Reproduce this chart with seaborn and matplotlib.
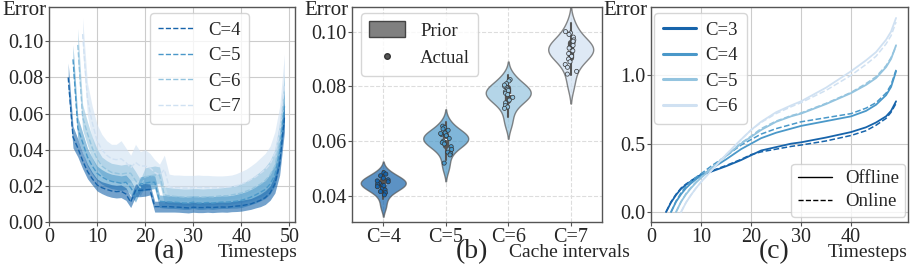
import numpy as np
import pandas as pd
import matplotlib
matplotlib.use("Agg")
import matplotlib.pyplot as plt
import seaborn as sns
from matplotlib.patches import Patch
from matplotlib.lines import Line2D

# ---------------- (a) error over timesteps, mean +- sd ----------------
a_labels = ["C=4", "C=5", "C=6", "C=7"]
a_start = [4, 5, 6, 7]
a_mean_c4 = [0.080, 0.047, 0.041, 0.034, 0.028, 0.024, 0.0205, 0.019, 0.018, 0.0172, 0.0168, 0.017,
             0.0155, 0.011, 0.0175, 0.0175, 0.0178, 0.018, 0.0085, 0.0085, 0.0085, 0.0085, 0.0083,
             0.0082, 0.008, 0.0078, 0.0082, 0.008, 0.008, 0.0082, 0.008, 0.0082, 0.0083, 0.0082,
             0.0085, 0.0088, 0.009, 0.0095, 0.010, 0.011, 0.012, 0.0135, 0.016, 0.021, 0.032, 0.058]
a_sd_c4 = [0.008, 0.006, 0.005, 0.0045, 0.004, 0.0035, 0.0033, 0.0033, 0.0035, 0.0035, 0.0035, 0.0035,
           0.0035, 0.003, 0.0035, 0.0035, 0.0035, 0.003, 0.003, 0.003, 0.003, 0.003, 0.0028,
           0.0028, 0.0028, 0.0028, 0.0028, 0.0028, 0.0028, 0.0028, 0.0028, 0.0028, 0.0028, 0.0028,
           0.0028, 0.003, 0.003, 0.003, 0.003, 0.0032, 0.0035, 0.0038, 0.004, 0.005, 0.006, 0.008]
a_mean_c5 = [0.090, 0.052, 0.044, 0.036, 0.031, 0.027, 0.025, 0.0235, 0.0225, 0.022, 0.0215, 0.022,
             0.019, 0.0145, 0.021, 0.0215, 0.022, 0.022, 0.0115, 0.0112, 0.011, 0.011, 0.0108,
             0.0105, 0.0105, 0.011, 0.0105, 0.0105, 0.0108, 0.0105, 0.0108, 0.011, 0.011, 0.0112,
             0.0115, 0.012, 0.0128, 0.0138, 0.015, 0.0165, 0.018, 0.021, 0.026, 0.038, 0.064]
a_sd_c5 = [0.008, 0.006, 0.0055, 0.005, 0.0045, 0.004, 0.004, 0.004, 0.004, 0.004, 0.004, 0.004,
           0.004, 0.0035, 0.004, 0.004, 0.004, 0.0035, 0.0035, 0.0035, 0.0035, 0.0035, 0.0035,
           0.0035, 0.0035, 0.0035, 0.0035, 0.0035, 0.0035, 0.0035, 0.0035, 0.0035, 0.0035, 0.0035,
           0.0038, 0.004, 0.004, 0.0042, 0.0045, 0.0048, 0.005, 0.0055, 0.006, 0.007, 0.009]
a_mean_c6 = [0.098, 0.058, 0.049, 0.041, 0.035, 0.031, 0.029, 0.0275, 0.027, 0.0265, 0.027, 0.027,
             0.023, 0.019, 0.025, 0.0255, 0.026, 0.026, 0.015, 0.0145, 0.0142, 0.014, 0.0138,
             0.0138, 0.014, 0.014, 0.0138, 0.014, 0.014, 0.0142, 0.0145, 0.0145, 0.015, 0.0155,
             0.016, 0.017, 0.018, 0.0195, 0.021, 0.023, 0.026, 0.031, 0.044, 0.069]
a_sd_c6 = [0.009, 0.007, 0.0065, 0.006, 0.0055, 0.005, 0.005, 0.005, 0.005, 0.005, 0.005, 0.005,
           0.005, 0.0045, 0.005, 0.005, 0.005, 0.0045, 0.0045, 0.0045, 0.0045, 0.0045, 0.0045,
           0.0045, 0.0045, 0.0045, 0.0045, 0.0045, 0.0045, 0.0045, 0.0045, 0.0048, 0.005, 0.005,
           0.0052, 0.0055, 0.006, 0.0065, 0.007, 0.0075, 0.008, 0.009, 0.011, 0.013]
a_mean_c7 = [0.104, 0.068, 0.055, 0.045, 0.040, 0.037, 0.035, 0.0345, 0.035, 0.033, 0.030, 0.033,
             0.031, 0.031, 0.030, 0.0275, 0.026, 0.029, 0.0195, 0.019, 0.019, 0.0188, 0.0188,
             0.019, 0.0192, 0.019, 0.019, 0.0188, 0.019, 0.019, 0.0192, 0.0195, 0.020, 0.021,
             0.022, 0.0235, 0.025, 0.027, 0.029, 0.032, 0.038, 0.050, 0.076]
a_sd_c7 = [0.009, 0.009, 0.009, 0.009, 0.0085, 0.008, 0.008, 0.0085, 0.01, 0.008, 0.007, 0.01,
           0.008, 0.009, 0.008, 0.007, 0.006, 0.008, 0.007, 0.007, 0.007, 0.007, 0.007,
           0.0068, 0.0068, 0.0068, 0.0068, 0.0068, 0.0065, 0.0065, 0.0065, 0.0065, 0.0068, 0.007,
           0.0072, 0.0075, 0.008, 0.0085, 0.009, 0.01, 0.012, 0.014, 0.017]
a_means = [a_mean_c4, a_mean_c5, a_mean_c6, a_mean_c7]
a_sds = [a_sd_c4, a_sd_c5, a_sd_c6, a_sd_c7]

# ---------------- (b) prior vs actual error per cache interval ----------------
b_labels = ["C=4", "C=5", "C=6", "C=7"]
b_prior = {
    "C=4": [0.036, 0.039, 0.041, 0.042, 0.0425, 0.043, 0.0435, 0.044, 0.0443, 0.0446, 0.045,
            0.0453, 0.0457, 0.046, 0.0465, 0.047, 0.048, 0.049],
    "C=5": [0.050, 0.053, 0.056, 0.0575, 0.058, 0.059, 0.0595, 0.060, 0.0605, 0.061, 0.0613,
            0.0617, 0.062, 0.0625, 0.063, 0.064, 0.065, 0.067],
    "C=6": [0.066, 0.069, 0.072, 0.0735, 0.0745, 0.0755, 0.076, 0.0765, 0.077, 0.0775, 0.078,
            0.0785, 0.079, 0.0795, 0.080, 0.081, 0.0825, 0.084],
    "C=7": [0.080, 0.084, 0.087, 0.089, 0.090, 0.091, 0.092, 0.0925, 0.093, 0.0935, 0.094,
            0.0945, 0.095, 0.096, 0.097, 0.098, 0.100, 0.103],
}
b_actual = {
    "C=4": [0.0485, 0.048, 0.0474, 0.0465, 0.0459, 0.0452, 0.0449, 0.0446, 0.0443, 0.0439,
            0.0434, 0.0428, 0.0422, 0.0416, 0.0412, 0.0404, 0.0455, 0.0438],
    "C=5": [0.0655, 0.065, 0.0645, 0.064, 0.063, 0.0625, 0.062, 0.061, 0.060, 0.0595, 0.059,
            0.058, 0.057, 0.056, 0.0555, 0.055, 0.052, 0.0628],
    "C=6": [0.0825, 0.082, 0.081, 0.080, 0.0795, 0.079, 0.078, 0.0775, 0.077, 0.076, 0.075,
            0.074, 0.073, 0.0725, 0.072, 0.0805, 0.0785],
    "C=7": [0.100, 0.0995, 0.099, 0.098, 0.097, 0.096, 0.095, 0.094, 0.093, 0.092, 0.091,
            0.090, 0.089, 0.088, 0.087, 0.0855, 0.0845, 0.0965],
}

# ---------------- (c) cumulative error, offline vs online ----------------
c_labels = ["C=3", "C=4", "C=5", "C=6"]
c_t3 = [3, 4, 5, 6, 7, 8, 10, 12, 15, 18, 20, 22, 25, 28, 30, 35, 40, 43, 45, 47, 48, 49]
c_off3 = [0, 0.07, 0.125, 0.17, 0.2, 0.225, 0.27, 0.295, 0.335, 0.38, 0.415, 0.45, 0.475, 0.50,
          0.51, 0.545, 0.585, 0.62, 0.655, 0.70, 0.74, 0.81]
c_on3 = [0, 0.075, 0.13, 0.175, 0.205, 0.23, 0.275, 0.30, 0.34, 0.385, 0.42, 0.44, 0.46, 0.48,
         0.49, 0.52, 0.56, 0.595, 0.635, 0.685, 0.73, 0.795]
c_t4 = [4, 5, 6, 7, 8, 9, 10, 12, 15, 18, 20, 22, 25, 28, 30, 35, 40, 43, 45, 47, 48, 49]
c_off4 = [0, 0.075, 0.13, 0.175, 0.21, 0.24, 0.265, 0.315, 0.385, 0.46, 0.50, 0.54, 0.58, 0.61,
          0.63, 0.665, 0.70, 0.74, 0.785, 0.855, 0.915, 1.03]
c_on4 = [0, 0.08, 0.14, 0.19, 0.225, 0.255, 0.28, 0.335, 0.41, 0.49, 0.53, 0.57, 0.61, 0.64,
         0.66, 0.69, 0.72, 0.76, 0.80, 0.87, 0.93, 1.04]
c_t5 = [5, 6, 7, 8, 9, 10, 12, 15, 18, 20, 22, 25, 28, 30, 35, 40, 43, 45, 47, 48, 49]
c_off5 = [0, 0.075, 0.13, 0.175, 0.215, 0.25, 0.315, 0.41, 0.50, 0.55, 0.6, 0.66, 0.70, 0.72,
          0.79, 0.87, 0.93, 0.98, 1.06, 1.12, 1.22]
c_on5 = [0, 0.075, 0.135, 0.18, 0.22, 0.255, 0.32, 0.415, 0.505, 0.555, 0.61, 0.665, 0.705, 0.725,
         0.795, 0.875, 0.94, 0.99, 1.07, 1.13, 1.21]
c_t6 = [6, 7, 8, 9, 10, 12, 15, 18, 20, 22, 25, 28, 30, 35, 40, 43, 45, 47, 48, 49]
c_off6 = [0, 0.07, 0.125, 0.175, 0.22, 0.30, 0.42, 0.53, 0.6, 0.66, 0.73, 0.78, 0.81, 0.91, 1.03,
          1.11, 1.17, 1.26, 1.32, 1.42]
c_on6 = [0, 0.07, 0.125, 0.175, 0.22, 0.30, 0.42, 0.53, 0.6, 0.655, 0.72, 0.77, 0.80, 0.89, 1.0,
         1.08, 1.14, 1.23, 1.29, 1.39]
c_ts = [c_t3, c_t4, c_t5, c_t6]
c_offs = [c_off3, c_off4, c_off5, c_off6]
c_ons = [c_on3, c_on4, c_on5, c_on6]

# ---------------- style ----------------
sns.set_style("whitegrid")
plt.rcParams["font.family"] = ["Liberation Serif", "DejaVu Serif"]
plt.rcParams["axes.edgecolor"] = "#555555"
plt.rcParams["axes.linewidth"] = 1.0
plt.rcParams["grid.color"] = "#cccccc"
TICK_FS = 14.5
LEG_FS = 13.5
LAB_FS = 14

blues = sns.color_palette("Blues_r", 4)

fig = plt.figure(figsize=(9.14, 2.66), dpi=100)
ax_a = fig.add_axes([0.0536, 0.1654, 0.2692, 0.8083])
ax_b = fig.add_axes([0.3851, 0.1654, 0.2735, 0.8083])
ax_c = fig.add_axes([0.7123, 0.1654, 0.2812, 0.8083])


def decorate(ax, xlabel, tag, xlab_x, tag_x):
    ax.text(-0.012, 0.985, "Error", transform=ax.transAxes, ha="right", va="center", fontsize=15)
    ax.text(xlab_x, -0.165, xlabel, transform=ax.transAxes, ha="right", va="baseline",
            fontsize=LAB_FS)
    ax.text(tag_x, -0.168, tag, transform=ax.transAxes, ha="center", va="baseline", fontsize=20)
    ax.tick_params(axis="both", labelsize=TICK_FS, length=3, width=0.8, color="#555555", pad=1.0)
    ax.tick_params(axis="x", bottom=True)
    ax.tick_params(axis="y", left=True)
    for s in ax.spines.values():
        s.set_color("#555555")


# (a)
for i in range(3, -1, -1):
    t = np.arange(a_start[i], 50)
    m = np.array(a_means[i])
    sd = np.array(a_sds[i])
    ax_a.fill_between(t, m - sd, m + sd, color=blues[i], alpha=0.6, linewidth=0)
    sns.lineplot(x=t, y=m, ax=ax_a, color=blues[i], linestyle="--", linewidth=1.0,
                 label=a_labels[i])
h, l = ax_a.get_legend_handles_labels()
ax_a.legend(h[::-1], l[::-1], loc="upper right", bbox_to_anchor=(0.813, 0.972), borderaxespad=0,
            fontsize=LEG_FS, handlelength=1.9, labelspacing=0.45, borderpad=0.45,
            handletextpad=0.75)
ax_a.set_xlim(0, 51.2)
ax_a.set_ylim(0, 0.119)
ax_a.set_xticks([0, 10, 20, 30, 40, 50])
ax_a.set_yticks([0.0, 0.02, 0.04, 0.06, 0.08, 0.10])
ax_a.yaxis.set_major_formatter(matplotlib.ticker.FormatStrFormatter("%.2f"))
ax_a.set_xlabel("")
ax_a.set_ylabel("")
decorate(ax_a, "Timesteps", "(a)", 1.012, 0.49)

# (b)
prior_df = pd.DataFrame([(k, v) for k in b_labels for v in b_prior[k]], columns=["C", "err"])
actual_df = pd.DataFrame([(k, v) for k in b_labels for v in b_actual[k]], columns=["C", "err"])
np.random.seed(3)
sns.violinplot(data=prior_df, x="C", y="err", hue="C", palette=blues, order=b_labels,
               inner="box", linecolor="#555555", linewidth=1.0, width=0.72,
               density_norm="width", saturation=1.0, alpha=0.7, legend=False, ax=ax_b)
sns.stripplot(data=actual_df, x="C", y="err", hue="C", palette=blues, order=b_labels,
              jitter=0.1, size=3.0, linewidth=0.5, edgecolor="#333333", legend=False, ax=ax_b)
ax_b.grid(True, linestyle="--", color="#dddddd", linewidth=0.8)
ax_b.set_ylim(0.0305, 0.109)
ax_b.set_yticks([0.04, 0.06, 0.08, 0.10])
ax_b.yaxis.set_major_formatter(matplotlib.ticker.FormatStrFormatter("%.2f"))
ax_b.set_xlabel("")
ax_b.set_ylabel("")
ax_b.legend(handles=[Patch(facecolor="#808080", edgecolor="#444444", label="Prior"),
                     Line2D([], [], marker="o", color="#555555", markeredgecolor="#333333",
                            linestyle="", markersize=4, label="Actual")],
            loc="upper left", bbox_to_anchor=(0.036, 0.972), borderaxespad=0, fontsize=LEG_FS,
            handlelength=1.9, handleheight=0.9, borderpad=0.45, handletextpad=0.8)
decorate(ax_b, "Cache intervals", "(b)", 1.112, 0.479)

# (c)
for i in range(4):
    sns.lineplot(x=c_ts[i], y=c_offs[i], ax=ax_c, color=blues[i], linewidth=1.3)
    sns.lineplot(x=c_ts[i], y=c_ons[i], ax=ax_c, color=blues[i], linewidth=1.1, linestyle="--")
leg1 = ax_c.legend(handles=[Line2D([], [], color=blues[i], linewidth=2.2, label=c_labels[i])
                            for i in range(4)],
                   loc="upper left", bbox_to_anchor=(0.012, 0.972), borderaxespad=0,
                   fontsize=LEG_FS, handlelength=1.8, labelspacing=0.45, borderpad=0.45,
                   handletextpad=0.5)
ax_c.add_artist(leg1)
ax_c.legend(handles=[Line2D([], [], color="black", linewidth=1.0, label="Offline"),
                     Line2D([], [], color="black", linewidth=1.0, linestyle="--", label="Online")],
            loc="lower right", bbox_to_anchor=(0.99, 0.025), borderaxespad=0, fontsize=LEG_FS,
            handlelength=1.8, borderpad=0.35, handletextpad=0.7, labelspacing=0.3)
ax_c.set_xlim(0, 51.4)
ax_c.set_ylim(-0.073, 1.5)
ax_c.set_xticks([0, 10, 20, 30, 40])
ax_c.set_yticks([0.0, 0.5, 1.0])
ax_c.yaxis.set_major_formatter(matplotlib.ticker.FormatStrFormatter("%.1f"))
ax_c.set_xlabel("")
ax_c.set_ylabel("")
decorate(ax_c, "Timesteps", "(c)", 1.0, 0.48)

fig.savefig("out.png", dpi=100)
